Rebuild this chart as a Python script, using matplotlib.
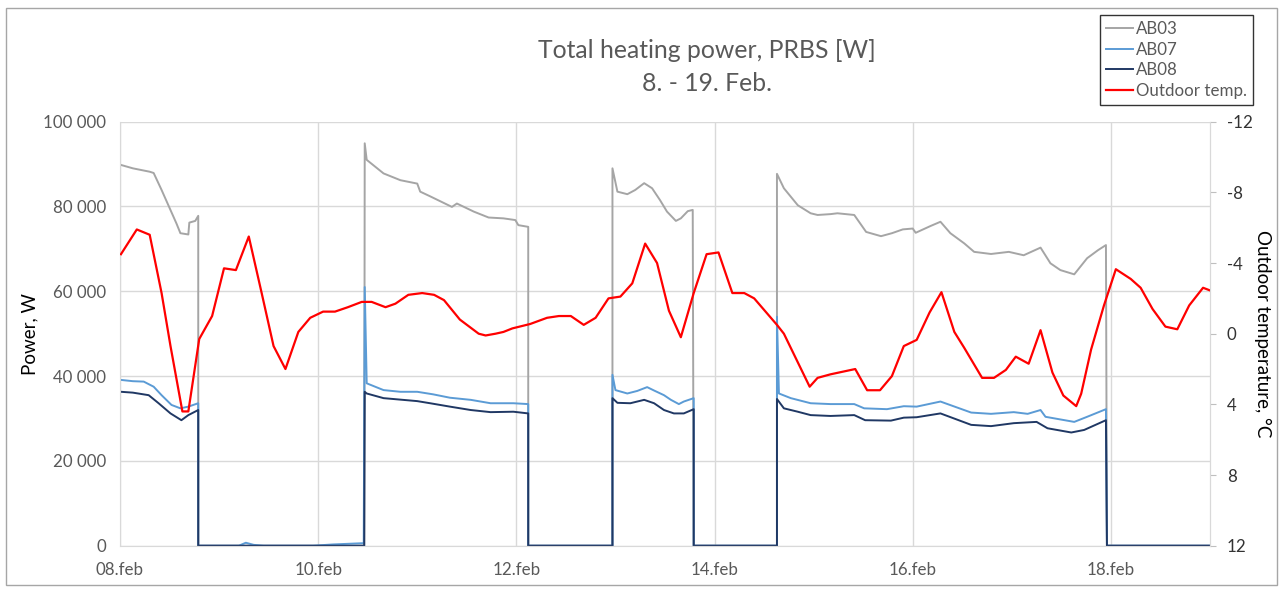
import matplotlib
matplotlib.use("Agg")
import matplotlib.pyplot as plt
from matplotlib.patches import Rectangle
from matplotlib.ticker import FuncFormatter

# time in days after 08.feb 00:00
ab03_t = [0.01, 0.13, 0.30, 0.34, 0.42, 0.57, 0.61, 0.69, 0.70, 0.76, 0.79, 0.79,
          2.465, 2.47, 2.49, 2.66, 2.83, 3.00, 3.03, 3.13, 3.35, 3.40, 3.57, 3.72, 3.87, 3.99, 4.02, 4.12, 4.12,
          4.97, 4.97, 5.02, 5.12, 5.20, 5.29, 5.37, 5.45, 5.52, 5.61, 5.66, 5.73, 5.78, 5.79,
          6.63, 6.63, 6.70, 6.84, 6.97, 7.04, 7.17, 7.24, 7.41, 7.53, 7.68, 7.79, 7.90, 8.00, 8.03,
          8.18, 8.28, 8.38, 8.52, 8.62, 8.79, 8.97, 9.12, 9.29, 9.39, 9.49, 9.63, 9.76, 9.87, 9.95,
          9.96, 11.0]
ab03_w = [89800, 89000, 88200, 87900, 83900, 76000, 73700, 73400, 76200, 76600, 77800, 0,
          0, 94900, 91000, 87800, 86200, 85400, 83500, 82400, 79900, 80700, 78800, 77400, 77200, 76800, 75600, 75200, 0,
          0, 89000, 83500, 82900, 83900, 85500, 84300, 81500, 78800, 76600, 77200, 78900, 79200, 0,
          0, 87700, 84300, 80300, 78400, 78000, 78200, 78400, 78000, 74000, 73000, 73700, 74600, 74800, 73800,
          75400, 76400, 73700, 71300, 69300, 68800, 69300, 68500, 70300, 66600, 65000, 64000, 67800, 69700, 70900,
          0, 0]

ab07_t = [0.01, 0.13, 0.24, 0.34, 0.42, 0.52, 0.61, 0.69, 0.79, 0.79,
          1.20, 1.27, 1.35, 1.45, 1.95, 2.15, 2.46,
          2.47, 2.49, 2.66, 2.83, 3.00, 3.16, 3.33, 3.54, 3.74, 3.97, 4.12, 4.12,
          4.97, 4.97, 5.00, 5.12, 5.22, 5.32, 5.39, 5.49, 5.56, 5.64, 5.69, 5.79, 5.79,
          6.63, 6.63, 6.65, 6.77, 6.97, 7.17, 7.41, 7.51, 7.74, 7.91, 8.04, 8.28, 8.59, 8.79,
          9.02, 9.16, 9.29, 9.34, 9.63, 9.76, 9.95, 9.96, 11.0]
ab07_w = [39100, 38800, 38700, 37500, 35500, 33200, 32400, 32800, 33600, 0,
          0, 700, 200, 0, 0, 300, 600,
          61000, 38300, 36700, 36300, 36300, 35700, 34900, 34400, 33600, 33600, 33400, 0,
          0, 40300, 36700, 35900, 36500, 37400, 36600, 35500, 34400, 33400, 34000, 34800, 0,
          0, 54000, 35900, 34800, 33600, 33400, 33400, 32400, 32200, 32900, 32800, 34000, 31400, 31100,
          31500, 31100, 32000, 30400, 29200, 30400, 32200, 0, 0]

ab08_t = [0.01, 0.13, 0.29, 0.39, 0.51, 0.62, 0.69, 0.79, 0.79,
          2.465, 2.47, 2.49, 2.66, 3.00, 3.13, 3.33, 3.54, 3.74, 3.97, 4.12, 4.12,
          4.97, 4.97, 5.02, 5.15, 5.29, 5.39, 5.49, 5.59, 5.69, 5.79, 5.79,
          6.63, 6.63, 6.70, 6.84, 6.97, 7.17, 7.41, 7.52, 7.78, 7.91, 8.04, 8.28, 8.59, 8.79,
          9.02, 9.25, 9.36, 9.60, 9.73, 9.95, 9.96, 11.0]
ab08_w = [36300, 36100, 35500, 33600, 31200, 29600, 30800, 32000, 0,
          0, 36300, 35900, 34800, 34100, 33600, 32800, 32000, 31500, 31600, 31200, 0,
          0, 34800, 33700, 33600, 34400, 33600, 32000, 31200, 31200, 32200, 0,
          0, 34600, 32400, 31600, 30800, 30600, 30800, 29600, 29500, 30200, 30300, 31200, 28500, 28200,
          28900, 29200, 27700, 26700, 27300, 29600, 0, 0]

temp_t = [0.01, 0.17, 0.30, 0.42, 0.51, 0.63, 0.69, 0.80, 0.93, 1.05, 1.17, 1.30, 1.43, 1.55, 1.67,
          1.80, 1.92, 2.05, 2.17, 2.30, 2.44, 2.54, 2.68, 2.78, 2.91, 3.05, 3.17, 3.27, 3.43, 3.62,
          3.69, 3.79, 3.87, 3.96, 4.14, 4.31, 4.43, 4.55, 4.68, 4.80, 4.93, 5.05, 5.17, 5.30, 5.42,
          5.54, 5.66, 5.79, 5.92, 6.04, 6.18, 6.30, 6.40, 6.63, 6.70, 6.96, 7.04, 7.17, 7.42, 7.54,
          7.67, 7.79, 7.91, 8.04, 8.17, 8.29, 8.42, 8.52, 8.70, 8.82, 8.94, 9.04, 9.17, 9.29, 9.41,
          9.52, 9.65, 9.70, 9.80, 9.93, 10.05, 10.20, 10.30, 10.42, 10.55, 10.67, 10.79, 10.93, 11.0]
temp_c = [-4.5, -5.9, -5.6, -2.3, 0.7, 4.4, 4.4, 0.3, -1.0, -3.7, -3.6, -5.5, -2.3, 0.7, 2.0,
          -0.1, -0.9, -1.25, -1.25, -1.5, -1.8, -1.8, -1.5, -1.7, -2.2, -2.3, -2.2, -1.9, -0.8, 0.0,
          0.1, 0.0, -0.1, -0.3, -0.55, -0.9, -1.0, -1.0, -0.5, -0.9, -2.0, -2.1, -2.85, -5.1, -4.0,
          -1.3, 0.2, -2.3, -4.5, -4.6, -2.3, -2.3, -2.0, -0.5, 0.0, 3.0, 2.5, 2.3, 2.0, 3.2,
          3.2, 2.4, 0.7, 0.35, -1.2, -2.35, -0.1, 0.8, 2.5, 2.5, 2.05, 1.3, 1.7, -0.2, 2.2,
          3.5, 4.1, 3.4, 0.9, -1.6, -3.65, -3.1, -2.6, -1.4, -0.4, -0.25, -1.6, -2.6, -2.45]

date_ticks = [0, 2, 4, 6, 8, 10]
date_labels = ["08.feb", "10.feb", "12.feb", "14.feb", "16.feb", "18.feb"]
power_ticks = [0, 20000, 40000, 60000, 80000, 100000]
temp_ticks = [-12, -8, -4, 0, 4, 8, 12]

plt.rcParams["font.family"] = ["Lato", "DejaVu Sans"]
plt.rcParams["axes.unicode_minus"] = False
txt = "#595959"
grid = "#d9d9d9"

fig = plt.figure(figsize=(12.83, 5.89), dpi=100)
fig.patches.append(Rectangle((6 / 1283, 4 / 589), 1 - 12 / 1283, 1 - 12 / 589,
                             transform=fig.transFigure, fill=False, ec="#a6a6a6", lw=1))
ax = fig.add_axes([0.0935, 0.0735, 0.8496, 0.7199])

l1, = ax.plot(ab03_t, ab03_w, color="#a5a5a5", lw=1.4, label="AB03")
l2, = ax.plot(ab07_t, ab07_w, color="#5b9bd5", lw=1.4, label="AB07")
l3, = ax.plot(ab08_t, ab08_w, color="#203864", lw=1.4, label="AB08")

ax.set_xlim(0, 11)
ax.set_ylim(0, 100000)
ax.set_xticks(date_ticks)
ax.set_xticklabels(date_labels)
ax.set_yticks(power_ticks)
ax.yaxis.set_major_formatter(FuncFormatter(lambda v, p: f"{int(v):,}".replace(",", " ")))
ax.grid(True, color=grid, lw=1)
ax.set_axisbelow(True)
ax.tick_params(length=0, labelsize=12.2, labelcolor=txt, pad=10)
ax.tick_params(axis="x", pad=12)
for s in ax.spines.values():
    s.set_color(grid)
ax.spines["top"].set_visible(False)
ax.set_ylabel("Power, W", fontsize=13.5)
ax.yaxis.set_label_coords(-0.075, 0.5)

ax2 = ax.twinx()
l4, = ax2.plot(temp_t, temp_c, color="#ff0000", lw=1.6, label="Outdoor temp.")
ax2.set_ylim(12, -12)
ax2.set_yticks(temp_ticks)
ax2.tick_params(axis="y", length=4, color="#bfbfbf", labelsize=12.2, labelcolor="#333333", pad=8)
for s in ax2.spines.values():
    s.set_visible(False)
ax2.spines["right"].set_visible(True)
ax2.spines["right"].set_color(grid)
ax2.set_ylabel("Outdoor temperature, °C", fontsize=13.5, rotation=-90, va="center")
ax2.yaxis.set_label_coords(1.048, 0.5)

fig.text(0.551, 0.915, "Total heating power, PRBS [W]", ha="center", va="center",
         fontsize=17.8, color=txt)
fig.text(0.551, 0.859, "8. - 19. Feb.", ha="center", va="center", fontsize=17.8, color=txt)

leg = fig.legend(handles=[l1, l2, l3, l4], loc="upper left",
                 bbox_to_anchor=(1100 / 1283, 1 - 15 / 589), fontsize=12.2, handlelength=1.6,
                 handletextpad=0.2, labelspacing=0.28, borderpad=0.35, fancybox=False,
                 frameon=True, edgecolor="black", labelcolor=txt, borderaxespad=0)
leg.get_frame().set_linewidth(1)

fig.savefig("out.png", dpi=100)
